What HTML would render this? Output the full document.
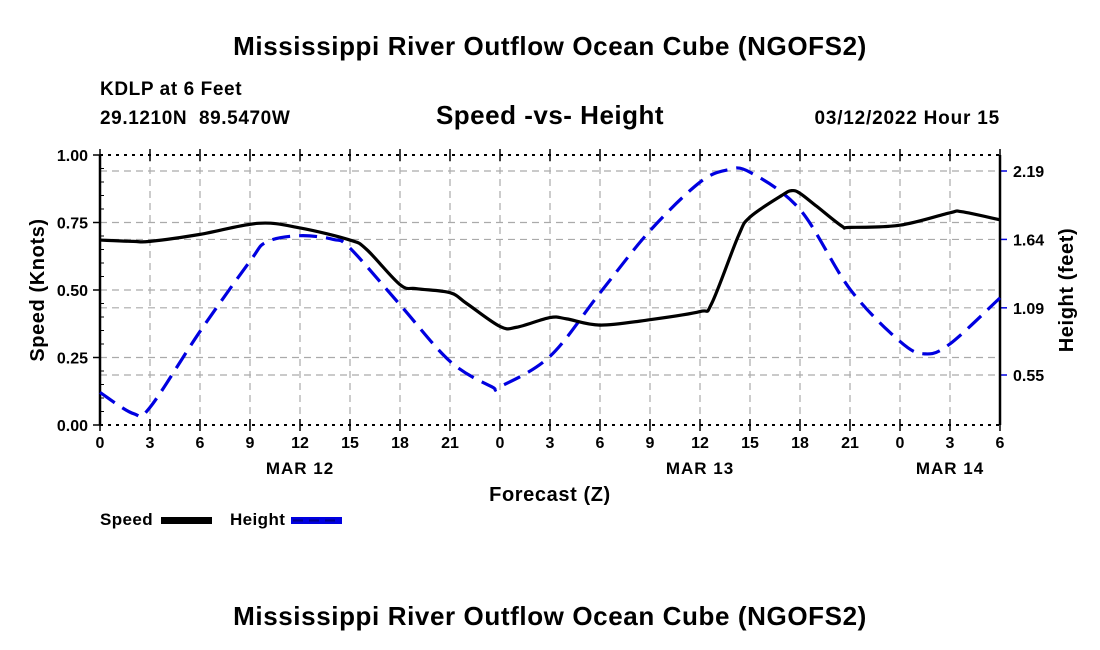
<!DOCTYPE html>
<html><head><meta charset="utf-8"><style>
body{margin:0;background:#fff;}
svg{display:block;font-family:"Liberation Sans",sans-serif;font-weight:bold;}
</style></head><body>
<svg id="chart" width="1100" height="650" viewBox="0 0 1100 650">
<text x="550" y="55" text-anchor="middle" font-size="26" letter-spacing="0.6">Mississippi River Outflow Ocean Cube (NGOFS2)</text>
<text x="100" y="95" font-size="19" letter-spacing="0.6">KDLP at 6 Feet</text>
<text x="100" y="124" font-size="19" letter-spacing="0.6" xml:space="preserve" style="white-space:pre">29.1210N  89.5470W</text>
<text x="550" y="124" text-anchor="middle" font-size="26" letter-spacing="0.5">Speed -vs- Height</text>
<text x="1000" y="124" text-anchor="end" font-size="19" letter-spacing="0.8">03/12/2022 Hour 15</text>
<g id="grid"></g>
<g id="axes"></g>
<g id="series"></g>
<text x="550" y="501" text-anchor="middle" font-size="20" letter-spacing="0.6">Forecast (Z)</text>
<text transform="translate(44,290) rotate(-90)" text-anchor="middle" font-size="20" letter-spacing="0.6">Speed (Knots)</text>
<text transform="translate(1073,290) rotate(-90)" text-anchor="middle" font-size="20" letter-spacing="0.6">Height (feet)</text>
<g>
<text x="100" y="525" font-size="17" letter-spacing="0.4">Speed</text>
<rect x="161" y="517" width="51" height="7" fill="#000"/>
<text x="230" y="525" font-size="17" letter-spacing="0.4">Height</text>
<rect x="291" y="517" width="51" height="7" fill="#0000e0"/>
<line x1="293" y1="520.5" x2="340" y2="520.5" stroke="#00008a" stroke-width="2" stroke-dasharray="10,6"/>
</g>
<text x="550" y="625" text-anchor="middle" font-size="26" letter-spacing="0.6">Mississippi River Outflow Ocean Cube (NGOFS2)</text>
</svg>
<script>
const speedHours=[0,2,3,6,9.5,12,15,16,18,19,21,22,24,25,27,28,30,33,36,36.7,38.3,39,40.9,41.5,42,43,44.5,45,48,51,51.7,54];
const speedValues=[0.685,0.68,0.68,0.706,0.747,0.73,0.685,0.65,0.52,0.505,0.49,0.45,0.365,0.362,0.398,0.393,0.37,0.39,0.42,0.45,0.70,0.77,0.85,0.868,0.858,0.81,0.737,0.732,0.74,0.786,0.79,0.76];
const heightHours=[0,2,3,6,9,10,12,14,15,18,21,23.5,24,27,30,33,36,37.7,39,42,45,48,49.5,51,54];
const heightValues=[0.41,0.24,0.29,0.90,1.465,1.62,1.67,1.64,1.57,1.115,0.66,0.456,0.456,0.70,1.21,1.71,2.10,2.20,2.18,1.88,1.24,0.82,0.72,0.80,1.17];
const xTickLabels=["0","3","6","9","12","15","18","21","0","3","6","9","12","15","18","21","0","3","6"];
const dayLabels=["MAR 12","MAR 13","MAR 14"];
const dayHours=[12,36,51];
const speedTicks=[0,0.25,0.5,0.75,1.0];
const heightTicks=[0.55,1.09,1.64,2.19];

const L=100,R=1000,T=155,B=425,NS="http://www.w3.org/2000/svg";
const x=h=>L+h*(R-L)/54;
const yS=v=>B-v*(B-T);
const yH=v=>375-(v-0.55)*(204/1.64);
function mk(tag,attrs,parent){const e=document.createElementNS(NS,tag);for(const k in attrs)e.setAttribute(k,attrs[k]);parent.appendChild(e);return e;}
const grid=document.getElementById('grid'),axes=document.getElementById('axes'),series=document.getElementById('series');
xTickLabels.forEach((t,i)=>{const h=i*3;
 if(i>0&&i<18){const g=mk('line',{x1:x(h),x2:x(h),y1:T,y2:B,stroke:'#aaa','stroke-width':1.2,'stroke-dasharray':'7,5'},grid);
 }
 const tk=mk('path',{d:`M${x(h)},${B-6}V${B+6}M${x(h)},${T-6}V${T+6}`,stroke:'#000','stroke-width':1.5},axes);
 
 const tx=mk('text',{x:x(h),y:B+23,'text-anchor':'middle','font-size':16},axes);tx.textContent=t;
 });
dayLabels.forEach((d,i)=>{const tx=mk('text',{x:x(dayHours[i]),y:B+49,'text-anchor':'middle','font-size':17,'letter-spacing':1},axes);tx.textContent=d;
 });
speedTicks.forEach(v=>{
 if(v>0&&v<1){const g=mk('line',{x1:L,x2:R,y1:yS(v),y2:yS(v),stroke:'#aaa','stroke-width':1.2,'stroke-dasharray':'7,5'},grid);
 }
 const tk=mk('line',{x1:L-7,x2:L,y1:yS(v),y2:yS(v),stroke:'#000','stroke-width':1.5},axes);
 
 const tx=mk('text',{x:L-12,y:yS(v)+6,'text-anchor':'end','font-size':16},axes);tx.textContent=v.toFixed(2);
 });
heightTicks.forEach(v=>{
 const g=mk('line',{x1:L,x2:R,y1:yH(v),y2:yH(v),stroke:'#aaa','stroke-width':1.2,'stroke-dasharray':'7,5'},grid);
 
 const tk=mk('line',{x1:R,x2:R+7,y1:yH(v),y2:yH(v),stroke:'#0000e0','stroke-width':1.5},axes);
 
 const tx=mk('text',{x:R+13,y:yH(v)+6,'font-size':16},axes);tx.textContent=v.toFixed(2);
 });
for(let i=1;i<20;i++){const v=i*0.05;if(i%5===0)continue;
 const m=mk('line',{x1:L,x2:L+4,y1:yS(v),y2:yS(v),stroke:'#000','stroke-width':1},axes);
 }
const fr=mk('path',{d:`M${L},${T}V${B}M${R},${T}V${B}`,stroke:'#000','stroke-width':2.5,fill:'none'},axes);

const tb=mk('path',{d:`M${L},${T}H${R}M${L},${B}H${R}`,stroke:'#000','stroke-width':2,'stroke-dasharray':'3,5',fill:'none'},axes);

function curve(hs,vs,yf){const p=hs.map((h,i)=>[x(h),yf(vs[i])]);let d=`M${p[0][0]},${p[0][1]}`;
 for(let i=0;i<p.length-1;i++){const p0=p[i-1]||p[i],p1=p[i],p2=p[i+1],p3=p[i+2]||p2;
 d+=`C${p1[0]+(p2[0]-p0[0])/6},${p1[1]+(p2[1]-p0[1])/6} ${p2[0]-(p3[0]-p1[0])/6},${p2[1]-(p3[1]-p1[1])/6} ${p2[0]},${p2[1]}`;}return d;}
const hl=mk('path',{d:curve(heightHours,heightValues,yH),stroke:'#0000e0','stroke-width':3.2,fill:'none','stroke-dasharray':'18,9'},series);

const sl=mk('path',{d:curve(speedHours,speedValues,yS),stroke:'#000','stroke-width':3.2,fill:'none'},series);

</script>
</body></html>
